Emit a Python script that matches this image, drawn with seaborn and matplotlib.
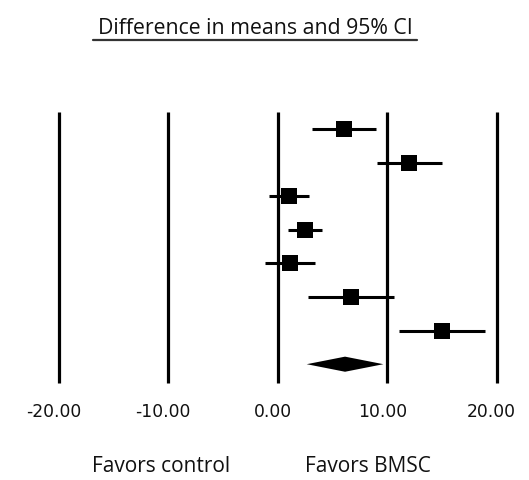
import matplotlib
matplotlib.use("Agg")
import matplotlib.pyplot as plt
import seaborn as sns
import pandas as pd
import numpy as np

# Data
studies = ["S1", "S2", "S3", "S4", "S5", "S6", "S7"]
estimates = [6.05, 11.99, 1.03, 2.49, 1.12, 6.72, 15.00]
lower = [3.16, 9.04, -0.79, 0.91, -1.19, 2.74, 11.08]
upper = [8.98, 14.98, 2.83, 4.05, 3.38, 10.65, 18.90]
pooled_est = 6.15
pooled_low = 2.65
pooled_high = 9.65
ticks = [-20, -10, 0, 10, 20]
tick_labels = ["-20.00", "-10.00", "0.00", "10.00", "20.00"]

df = pd.DataFrame({"study": studies, "est": estimates, "low": lower,
                   "high": upper, "row": np.arange(len(studies))})

sns.set_style("white")
W, H = 529, 480
fig = plt.figure(figsize=(W / 100, H / 100), dpi=100)
ax = fig.add_axes([0, 0, 1, 1])
ax.set_xlim(-25.36, 22.95)
ax.set_ylim(10.45, -3.85)
ax.axis("off")

# vertical reference lines
ax.vlines(ticks, -0.524, 7.566, color="black", lw=2.3)

# confidence intervals
ax.hlines(df["row"], df["low"], df["high"], color="black", lw=2.2)
sns.scatterplot(data=df, x="est", y="row", marker="s", s=118, color="black",
                linewidth=0, ax=ax, zorder=3, legend=False)

# pooled diamond
prow = len(studies)
hh = 0.225
ax.fill([pooled_low, pooled_est, pooled_high, pooled_est],
        [prow, prow - hh, prow, prow + hh], color="black", lw=0, zorder=3)

# tick labels
for t, lab in zip(ticks, tick_labels):
    ax.annotate(lab, xy=(t, 8.42), xytext=(-5, 0), textcoords="offset pixels",
                ha="center", va="center", fontsize=12.3, family="DejaVu Sans",
                color="#111111")

tfont = "Open Sans"
fig.text(255.5 / W, 1 - 28 / H, "Difference in means and 95% CI", ha="center",
         va="center", fontsize=15.3, family=tfont, color="#111111")
fig.add_artist(plt.Line2D([93 / W, 417 / W], [1 - 40 / H, 1 - 40 / H],
                          color="#333333", lw=1.6))
fig.text(161 / W, 1 - 467 / H, "Favors control", ha="center", va="center",
         fontsize=15, family=tfont, color="#111111")
fig.text(367.5 / W, 1 - 467 / H, "Favors BMSC", ha="center", va="center",
         fontsize=15, family=tfont, color="#111111")

fig.savefig("out.png", dpi=100)
